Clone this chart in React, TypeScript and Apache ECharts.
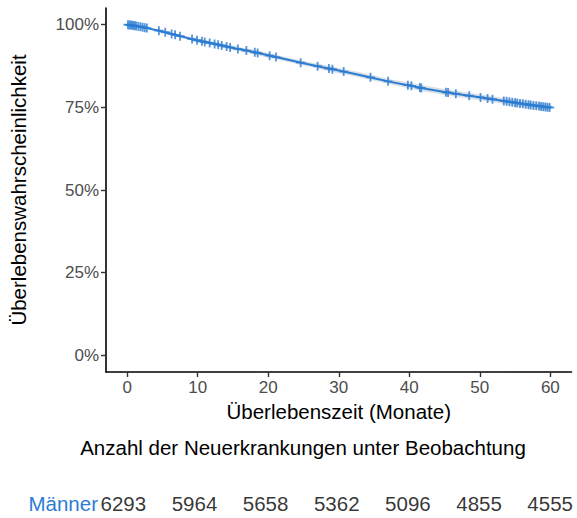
import React, { useEffect, useRef } from "react";
import * as echarts from "echarts";

// Kaplan-Meier curve (months, survival %)
const curveTimes = [0, 2, 5, 7.5, 10, 12.5, 15, 17.5, 20, 22.5, 25, 27.5, 30, 32.5, 35, 37.5, 40, 42.5, 45, 47.5, 50, 52.5, 55, 57.5, 60];
const curveSurv = [100, 99.3, 97.9, 96.5, 95.2, 94.1, 92.9, 91.9, 90.7, 89.5, 88.3, 87.2, 86.1, 85.0, 83.8, 82.6, 81.6, 80.5, 79.6, 78.8, 78.0, 77.2, 76.4, 75.6, 74.9];
const ciLower = [100, 99.1, 97.5, 96.0, 94.6, 93.5, 92.3, 91.2, 90.0, 88.8, 87.6, 86.4, 85.3, 84.2, 83.0, 81.8, 80.7, 79.6, 78.7, 77.9, 77.1, 76.3, 75.4, 74.6, 73.9];
const ciUpper = [100, 99.5, 98.3, 97.0, 95.8, 94.7, 93.5, 92.6, 91.4, 90.2, 89.0, 88.0, 86.9, 85.8, 84.6, 83.4, 82.5, 81.4, 80.5, 79.7, 78.9, 78.1, 77.4, 76.6, 75.9];

// censoring times (months)
const censorTimes = [0.1, 0.3, 0.5, 0.7, 0.9, 1.1, 1.3, 1.6, 1.9, 2.2, 2.5, 2.8, 4.5, 5.4, 6.3, 6.8, 7.5, 9.2, 9.9, 10.6, 11.0, 11.7, 12.4, 12.9, 13.4, 14.1, 14.6, 15.7, 16.9, 18.1, 18.5, 20.2, 21.1, 24.6, 27.0, 28.6, 29.1, 30.7, 34.5, 37.0, 39.8, 40.3, 41.5, 41.7, 45.2, 45.5, 46.6, 48.5, 50.1, 51.1, 51.8, 53.4, 53.8, 54.2, 54.6, 55.0, 55.3, 55.7, 56.1, 56.5, 56.9, 57.2, 57.6, 58.0, 58.4, 58.7, 59.0, 59.3, 59.6, 59.9];

const xTicks = [0, 10, 20, 30, 40, 50, 60];
const yTicks = [0, 25, 50, 75, 100];

const riskGroup = "Männer";
const riskTimes = [0, 10, 20, 30, 40, 50, 60];
const riskCounts = [6293, 5964, 5658, 5362, 5096, 4855, 4555];

const BLUE = "#2b7cd3";
const FONT = "Liberation Sans, Arial, sans-serif";

function survAt(t: number): number {
  for (let i = 1; i < curveTimes.length; i++) {
    if (t <= curveTimes[i]) {
      const f = (t - curveTimes[i - 1]) / (curveTimes[i] - curveTimes[i - 1]);
      return curveSurv[i - 1] + f * (curveSurv[i] - curveSurv[i - 1]);
    }
  }
  return curveSurv[curveSurv.length - 1];
}

export default function App() {
  const ref = useRef<HTMLDivElement>(null);
  useEffect(() => {
    document.body.style.margin = "0";
    const chart = echarts.init(ref.current!, null, { renderer: "svg" });
    const plus = "path://M4,0 H6 V4 H10 V6 H6 V10 H4 V6 H0 V4 H4 Z";
    const option: any = {
      animation: false,
      textStyle: { fontFamily: FONT },
      grid: [
        { left: 102, right: 5.5, top: 8, bottom: 146 },
        { left: 102, right: 5.5, top: 490, height: 26 },
      ],
      xAxis: [
        {
          type: "value",
          min: -3,
          max: 63,
          name: "Überlebenszeit (Monate)",
          nameLocation: "middle",
          nameGap: 27,
          nameTextStyle: { color: "#000", fontSize: 20.5, fontFamily: FONT },
          axisLine: { show: true, onZero: false, lineStyle: { color: "#000", width: 1.6 } },
          axisTick: { show: true, length: 5, customValues: xTicks, lineStyle: { color: "#333", width: 1.4 } },
          axisLabel: { customValues: xTicks, color: "#4d4d4d", fontSize: 17, margin: 7, fontFamily: FONT },
          splitLine: { show: false },
        },
        { type: "value", gridIndex: 1, min: -3, max: 63, show: false },
      ],
      yAxis: [
        {
          type: "value",
          min: -5,
          max: 105,
          name: "Überlebenswahrscheinlichkeit",
          nameLocation: "middle",
          nameGap: 77,
          nameTextStyle: { color: "#000", fontSize: 20.5, fontFamily: FONT },
          axisLine: { show: true, onZero: false, lineStyle: { color: "#000", width: 1.6 } },
          axisTick: { show: true, length: 5, customValues: yTicks, lineStyle: { color: "#333", width: 1.4 } },
          axisLabel: { customValues: yTicks, formatter: "{value}%", color: "#4d4d4d", fontSize: 17, margin: 7, fontFamily: FONT },
          splitLine: { show: false },
        },
        {
          type: "category",
          gridIndex: 1,
          data: [riskGroup],
          axisLine: { show: false },
          axisTick: { show: false },
          axisLabel: { color: BLUE, fontSize: 20.5, margin: 4, fontFamily: FONT },
          splitLine: { show: false },
        },
      ],
      series: [
        {
          type: "custom",
          data: curveTimes.map((t, i) => [t, ciLower[i], ciUpper[i]]),
          silent: true,
          z: 2,
          renderItem: (params: any, api: any) => {
            if (params.dataIndex !== 0) return null;
            const upper = curveTimes.map((t, i) => api.coord([t, ciUpper[i]]));
            const lower = curveTimes.map((t, i) => api.coord([t, ciLower[i]])).reverse();
            return {
              type: "polygon",
              shape: { points: upper.concat(lower) },
              style: { fill: "#9aa6b4", opacity: 0.35 },
            };
          },
        },
        {
          type: "line",
          data: curveTimes.map((t, i) => [t, curveSurv[i]]),
          symbol: "none",
          lineStyle: { color: BLUE, width: 2 },
          z: 3,
        },
        {
          type: "scatter",
          data: censorTimes.map((t) => [t, survAt(t)]),
          symbol: plus,
          symbolSize: 9,
          itemStyle: { color: BLUE },
          z: 4,
        },
        {
          type: "scatter",
          xAxisIndex: 1,
          yAxisIndex: 1,
          data: riskTimes.map((t) => [t, 0]),
          symbolSize: 1,
          itemStyle: { color: "rgba(0,0,0,0)" },
          label: {
            show: true,
            position: "inside",
            color: "#000",
            fontSize: 20.5,
            fontFamily: FONT,
            formatter: (p: any) => String(riskCounts[p.dataIndex]),
          },
        },
      ],
      graphic: [
        {
          type: "text",
          x: 303,
          y: 447,
          style: {
            text: "Anzahl der Neuerkrankungen unter Beobachtung",
            fill: "#000",
            fontSize: 20.5,
            fontFamily: FONT,
            align: "center",
            verticalAlign: "middle",
          },
        },
      ],
    };
    chart.setOption(option);
    return () => chart.dispose();
  }, []);
  return <div ref={ref} style={{ width: 577, height: 518, position: "absolute", left: 0, top: 0 }} />;
}
